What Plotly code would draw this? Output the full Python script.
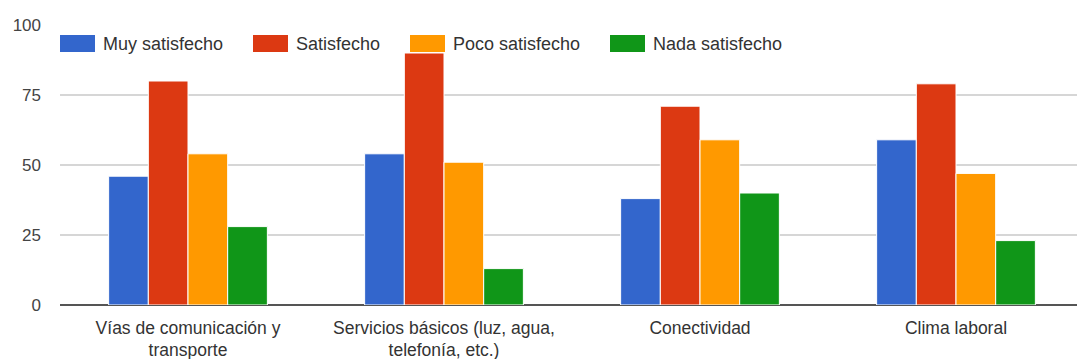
import plotly.graph_objects as go

categories = ["Vías de comunicación y<br>transporte",
              "Servicios básicos (luz, agua,<br>telefonía, etc.)",
              "Conectividad",
              "Clima laboral"]
series_names = ["Muy satisfecho", "Satisfecho", "Poco satisfecho", "Nada satisfecho"]
muy = [46, 54, 38, 59]
satisfecho = [80, 90, 71, 79]
poco = [54, 51, 59, 47]
nada = [28, 13, 40, 23]
colors = ["#3366cc", "#dc3912", "#ff9900", "#109618"]
y_ticks = [0, 25, 50, 75, 100]

fig = go.Figure()
for name, vals, col in zip(series_names, [muy, satisfecho, poco, nada], colors):
    fig.add_trace(go.Bar(x=list(range(len(categories))), y=vals, name=name,
                         marker=dict(color=col, line=dict(color="white", width=1)),
                         showlegend=False))

# custom legend (wide swatches as in the reference)
leg_x = [60, 253, 410, 610]
W, H = 1077, 359
for name, col, lx in zip(series_names, colors, leg_x):
    fig.add_shape(type="rect", xref="paper", yref="paper",
                  x0=(lx - 60) / 1017, x1=(lx - 60 + 35) / 1017,
                  y0=(305 - 52) / 280, y1=(305 - 35) / 280,
                  fillcolor=col, line=dict(width=0), layer="above")
    fig.add_annotation(xref="paper", yref="paper", x=(lx - 60 + 41) / 1017,
                       y=(305 - 44) / 280, text=name, showarrow=False,
                       xanchor="left", yanchor="middle",
                       font=dict(family="Liberation Sans, Arial", size=18, color="#333333"))

fig.update_layout(
    width=W, height=H,
    margin=dict(l=60, r=0, t=25, b=54),
    paper_bgcolor="white", plot_bgcolor="white",
    barmode="group", bargap=0.38, bargroupgap=0.0,
    font=dict(family="Liberation Sans, Arial", size=17, color="#333333"),
)
fig.update_xaxes(tickmode="array", tickvals=list(range(len(categories))), ticktext=categories,
                 range=[-0.5, -0.5 + 1017 / 256], showgrid=False, showline=False,
                 zeroline=False, ticks="", tickfont=dict(size=17.5, color="#333333"),
                 ticklabelstandoff=10)
fig.update_yaxes(range=[0, 100], tickvals=y_ticks, showgrid=True, gridcolor="#d6d6d6",
                 gridwidth=1.5, zeroline=True, zerolinecolor="#555555", zerolinewidth=2,
                 showline=False, ticks="", tickfont=dict(size=17, color="#444444"),
                 ticklabelstandoff=18)

fig.write_html("out.html")
